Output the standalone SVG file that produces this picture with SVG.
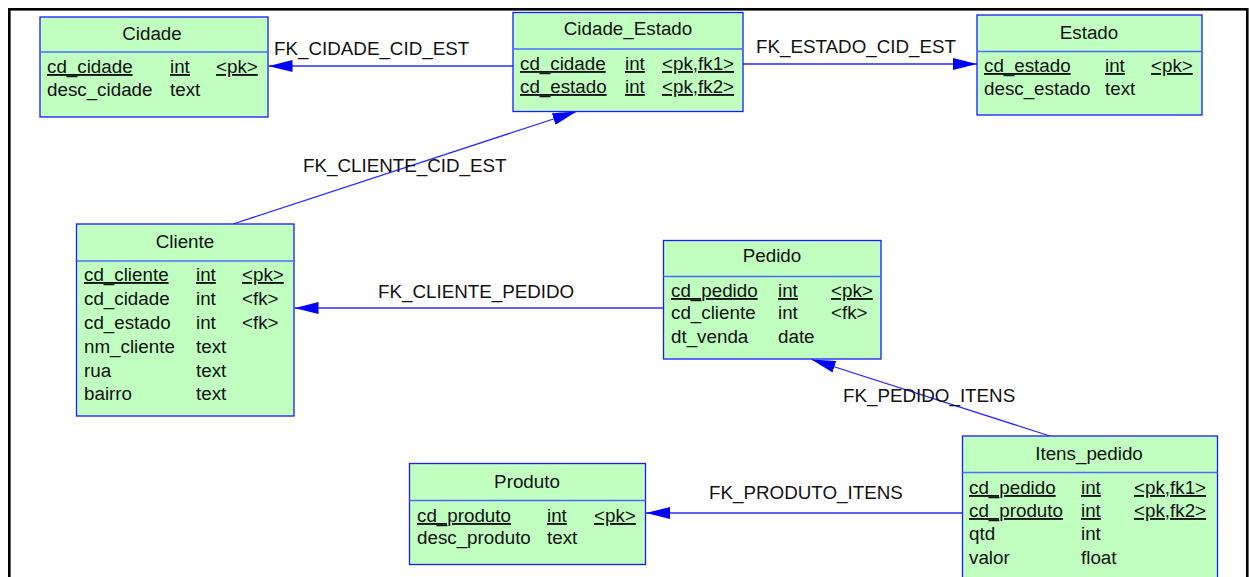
<svg xmlns="http://www.w3.org/2000/svg" width="1250" height="577" viewBox="0 0 1250 577">
<defs>
<marker id="arr" viewBox="0 0 24 12" refX="24" refY="6" markerWidth="24" markerHeight="12" markerUnits="userSpaceOnUse" orient="auto">
<path d="M0,0 L24,6 L0,12 Z" fill="#0000ff"/>
</marker>
</defs>
<style>
text{font-family:"Liberation Sans",Arial,sans-serif;font-size:18.8px;fill:#111}
.box{fill:#c0ffc0;stroke:#1a1aff;stroke-width:1.3}
.div{stroke:#4d6dff;stroke-width:1.3}
.t{text-anchor:middle}
.u{text-decoration:underline}
.conn{stroke:#2a2aff;stroke-width:1.3;fill:none}
.frame{fill:none;stroke:#000;stroke-width:2.6}
</style>
<rect class="frame" x="9.3" y="9.3" width="1238" height="700"/>

<g id="connectors">
<line class="conn" x1="513" y1="66" x2="268.5" y2="66" marker-end="url(#arr)"/>
<text x="274" y="55">FK_CIDADE_CID_EST</text>
<line class="conn" x1="743" y1="64" x2="977" y2="64" marker-end="url(#arr)"/>
<text x="756" y="53">FK_ESTADO_CID_EST</text>
<line class="conn" x1="233" y1="224" x2="576.5" y2="111.5" marker-end="url(#arr)"/>
<text x="303" y="172">FK_CLIENTE_CID_EST</text>
<line class="conn" x1="663" y1="308" x2="294.5" y2="308" marker-end="url(#arr)"/>
<text x="378" y="298">FK_CLIENTE_PEDIDO</text>
<line class="conn" x1="1050" y1="436" x2="811.5" y2="359.5" marker-end="url(#arr)"/>
<text x="843" y="402">FK_PEDIDO_ITENS</text>
<line class="conn" x1="962" y1="513" x2="646" y2="513" marker-end="url(#arr)"/>
<text x="709" y="499">FK_PRODUTO_ITENS</text>
</g>

<g id="cidade">
<rect class="box" x="40" y="17" width="228" height="100"/>
<line class="div" x1="40" y1="52" x2="268" y2="52"/>
<text class="t" x="152" y="40">Cidade</text>
<text class="u" x="47" y="73">cd_cidade</text><text class="u" x="170" y="73">int</text><text class="u" x="216" y="73">&lt;pk&gt;</text>
<text x="47" y="96">desc_cidade</text><text x="170" y="96">text</text>
</g>

<g id="cidade_estado">
<rect class="box" x="513" y="12.5" width="230" height="99"/>
<line class="div" x1="513" y1="49" x2="743" y2="49"/>
<text class="t" x="628" y="35">Cidade_Estado</text>
<text class="u" x="520" y="70">cd_cidade</text><text class="u" x="625" y="70">int</text><text class="u" x="662" y="70">&lt;pk,fk1&gt;</text>
<text class="u" x="520" y="93">cd_estado</text><text class="u" x="625" y="93">int</text><text class="u" x="662" y="93">&lt;pk,fk2&gt;</text>
</g>

<g id="estado">
<rect class="box" x="977" y="15" width="225" height="100"/>
<line class="div" x1="977" y1="51.5" x2="1202" y2="51.5"/>
<text class="t" x="1089" y="39">Estado</text>
<text class="u" x="984" y="72">cd_estado</text><text class="u" x="1105" y="72">int</text><text class="u" x="1151" y="72">&lt;pk&gt;</text>
<text x="984" y="95">desc_estado</text><text x="1105" y="95">text</text>
</g>

<g id="cliente">
<rect class="box" x="76.5" y="224" width="217.5" height="192"/>
<line class="div" x1="76.5" y1="261" x2="294" y2="261"/>
<text class="t" x="185" y="248">Cliente</text>
<text class="u" x="84" y="281">cd_cliente</text><text class="u" x="196" y="281">int</text><text class="u" x="242" y="281">&lt;pk&gt;</text>
<text x="84" y="305">cd_cidade</text><text x="196" y="305">int</text><text x="242" y="305">&lt;fk&gt;</text>
<text x="84" y="329">cd_estado</text><text x="196" y="329">int</text><text x="242" y="329">&lt;fk&gt;</text>
<text x="84" y="353">nm_cliente</text><text x="196" y="353">text</text>
<text x="84" y="377">rua</text><text x="196" y="377">text</text>
<text x="84" y="400">bairro</text><text x="196" y="400">text</text>
</g>

<g id="pedido">
<rect class="box" x="663.5" y="240.5" width="217.5" height="118.5"/>
<line class="div" x1="663.5" y1="276.5" x2="881" y2="276.5"/>
<text class="t" x="772" y="262">Pedido</text>
<text class="u" x="671" y="297">cd_pedido</text><text class="u" x="778" y="297">int</text><text class="u" x="831" y="297">&lt;pk&gt;</text>
<text x="671" y="319">cd_cliente</text><text x="778" y="319">int</text><text x="831" y="319">&lt;fk&gt;</text>
<text x="671" y="343">dt_venda</text><text x="778" y="343">date</text>
</g>

<g id="produto">
<rect class="box" x="409.5" y="463.5" width="236" height="101"/>
<line class="div" x1="409.5" y1="500.5" x2="645.5" y2="500.5"/>
<text class="t" x="527" y="488">Produto</text>
<text class="u" x="417" y="522">cd_produto</text><text class="u" x="547" y="522">int</text><text class="u" x="594" y="522">&lt;pk&gt;</text>
<text x="417" y="544">desc_produto</text><text x="547" y="544">text</text>
</g>

<g id="itens_pedido">
<rect class="box" x="962.5" y="436" width="255" height="200"/>
<line class="div" x1="962.5" y1="472.5" x2="1217.5" y2="472.5"/>
<text class="t" x="1089" y="460">Itens_pedido</text>
<text class="u" x="969" y="494">cd_pedido</text><text class="u" x="1081" y="494">int</text><text class="u" x="1134" y="494">&lt;pk,fk1&gt;</text>
<text class="u" x="969" y="517">cd_produto</text><text class="u" x="1081" y="517">int</text><text class="u" x="1134" y="517">&lt;pk,fk2&gt;</text>
<text x="969" y="540">qtd</text><text x="1081" y="540">int</text>
<text x="969" y="564">valor</text><text x="1081" y="564">float</text>
</g>
</svg>
